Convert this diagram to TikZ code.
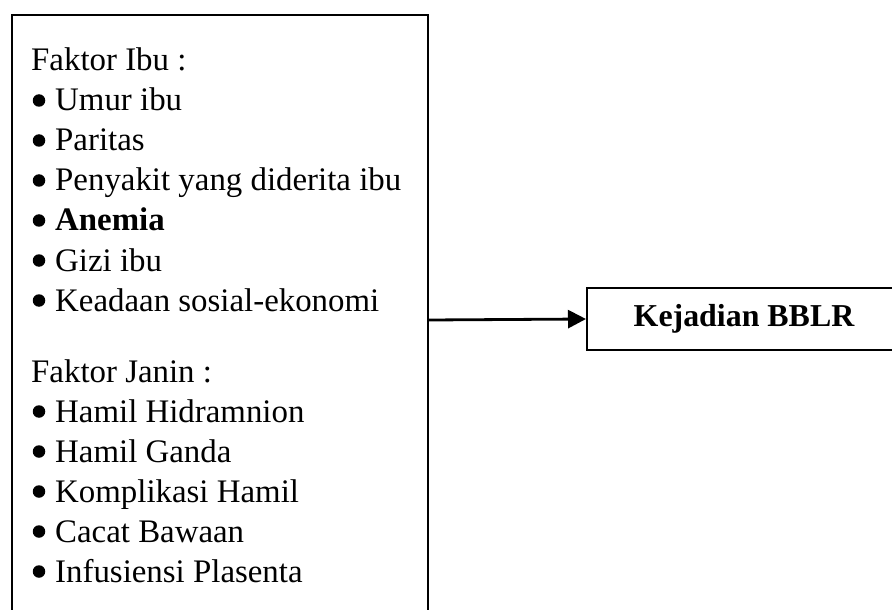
\documentclass[tikz,border=0pt]{standalone}
\usepackage{fontspec}
\setmainfont{Liberation Serif}
\usetikzlibrary{arrows.meta}
\begin{document}
\begin{tikzpicture}[x=1bp,y=-1bp,
  boxstyle/.style={draw=black,line width=2bp,inner sep=0pt,anchor=north west},
  linetext/.style={anchor=base west,inner sep=0pt,font=\fontsize{33}{39}\selectfont},
  bulletdot/.style={circle,fill=black,inner sep=0pt,minimum size=12.5bp},
  arrowline/.style={line width=2.8bp,-{Triangle[length=18bp,width=18bp]}}]
\useasboundingbox (0,0) rectangle (892,610);
\node[boxstyle,minimum width=416bp,minimum height=610bp] (left) at (11,14) {};
\node[boxstyle,minimum width=314bp,minimum height=62bp,anchor=west] (right) at (586,319)
  {\fontsize{32}{38}\selectfont\bfseries Kejadian BBLR};
\node[linetext] (t0) at (31,71) {Faktor Ibu :};
\node[linetext] (t1) at (55,111) {Umur ibu};
\node[linetext] (t2) at (55,151) {Paritas};
\node[linetext] (t3) at (55,191) {Penyakit yang diderita ibu};
\node[linetext] (t4) at (55,231) {\textbf{Anemia}};
\node[linetext] (t5) at (55,271) {Gizi ibu};
\node[linetext] (t6) at (55,311) {Keadaan sosial-ekonomi};
\node[linetext] (t8) at (31,382) {Faktor Janin :};
\node[linetext] (t9) at (55,422) {Hamil Hidramnion};
\node[linetext] (t10) at (55,462) {Hamil Ganda};
\node[linetext] (t11) at (55,502) {Komplikasi Hamil};
\node[linetext] (t12) at (55,542) {Cacat Bawaan};
\node[linetext] (t13) at (55,582) {Infusiensi Plasenta};
\foreach \i/\yy in {1/111,2/151,3/191,4/231,5/271,6/311,9/422,10/462,11/502,12/542,13/582}
  \node[bulletdot] (b\i) at (39,\yy-10.5) {};
\draw[arrowline] (left.east) -- (right.west);
\end{tikzpicture}
\end{document}
